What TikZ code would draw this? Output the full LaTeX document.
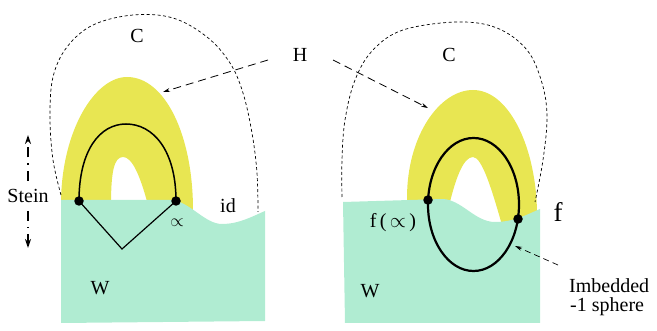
\documentclass[tikz,border=0pt]{standalone}
\usepackage{fontspec}
\setmainfont{Liberation Serif}
\usetikzlibrary{arrows.meta,shapes.geometric}
\definecolor{mint}{RGB}{176,236,210}
\definecolor{yel}{RGB}{232,230,82}
\begin{document}
\begin{tikzpicture}[x=1pt,y=-1pt,
  lbl/.style={font=\fontsize{20}{22}\selectfont, inner sep=0pt, anchor=base},
  cbound/.style={line width=0.7pt, dash pattern=on 3pt off 2.5pt},
  harrow/.style={line width=0.8pt, dash pattern=on 8pt off 5pt, -{Stealth[length=7pt,width=4pt]}},
  stein/.style={line width=1.3pt, dash pattern=on 10pt off 6pt on 1.5pt off 6pt, -{Stealth[length=9pt,width=6pt]}},
  curve/.style={line width=1.5pt},
  dot/.style={circle, fill=black, inner sep=0pt, minimum size=9.5pt}]
\useasboundingbox (0,0) rectangle (657,331);

% ---------- left panel ----------
\fill[yel] (61,210) -- (61,201) .. controls (62,130) and (95,77) .. (127,77)
  .. controls (165,77) and (193,135) .. (193,210) -- (148,210) -- (148,205)
  .. controls (140,175) and (132,157) .. (123,157)
  .. controls (114,157) and (111,172) .. (111,205) -- (111,210) -- cycle;
\fill[mint] (61,200) -- (172,200) .. controls (190,202) and (205,224) .. (222,224)
  .. controls (240,224) and (255,215) .. (265,211) -- (265,321) -- (61,323) -- cycle;

\node[dot] (a1) at (79,201) {};
\node[dot] (a2) at (176,201) {};
\coordinate (v) at (122,249);
\draw[curve] (a1.center) .. controls (79,150) and (100,124) .. (126,124)
  .. controls (153,124) and (176,150) .. (a2.center);
\draw[line width=1.2pt] (a1.center) -- (v) -- (a2.center);

\draw[cbound] plot[smooth, tension=0.6] coordinates {(61,195) (53,160) (50,117) (53,77) (67,47) (93,25) (133,15) (173,18) (207,37) (230,63) (243,93) (252,133) (257,173) (258,212)};

\node[lbl] (C1) at (137,43) {C};
\node[lbl] (W1) at (100,295) {W};
\node[lbl] (id) at (228,213) {id};
\node[font=\fontsize{17}{20}\selectfont, inner sep=0pt] (al) at (177,223) {$\propto$};
\node[lbl] (stein) at (28,203) {Stein};
\coordinate (s1) at (28,181);
\coordinate (s1t) at (28,135);
\coordinate (s2) at (28,211);
\coordinate (s2t) at (28,248);
\draw[stein] (s1) -- (s1t);
\draw[stein] (s2) -- (s2t);

% ---------- H ----------
\node[lbl] (H) at (300,62) {H};
\coordinate (h1) at (268,60);
\coordinate (h1t) at (163,92);
\coordinate (h2) at (333,60);
\coordinate (h2t) at (428,108);
\draw[harrow] (h1) -- (h1t);
\draw[harrow] (h2) -- (h2t);

% ---------- right panel ----------
\fill[yel] (407,210) -- (407,198) .. controls (407,135) and (440,90) .. (473,90)
  .. controls (510,90) and (537,150) .. (537,215) -- (502,225)
  .. controls (492,190) and (482,157) .. (473,157)
  .. controls (463,157) and (455,180) .. (448,210) -- cycle;
\fill[mint] (343,202) -- (443,199) .. controls (462,200) and (475,222) .. (495,222)
  .. controls (515,222) and (530,213) .. (540,209) -- (540,323) -- (345,323) -- cycle;

\node[draw, ellipse, line width=2.2pt, minimum width=91pt, minimum height=133pt, inner sep=0pt] (S) at (473.5,204.5) {};
\node[dot] (b1) at (428,200) {};
\node[dot] (b2) at (518,219) {};

\draw[cbound] plot[smooth, tension=0.6] coordinates {(342,197) (342,160) (345,120) (355,80) (373,50) (403,30) (457,22) (497,28) (527,50) (542,83) (547,117) (543,160) (535,202)};

\node[lbl] (C2) at (449,62) {C};
\node[lbl] (W2) at (370,298) {W};
\node[lbl, font=\fontsize{27}{30}\selectfont] (f) at (558,222) {f};
\node[lbl] (fa) at (393,228) {f\,(\,$\propto$\,)};
\node[lbl, anchor=base west] (imb) at (569,293) {Imbedded};
\node[lbl, anchor=base west] (sph) at (570,312) {-1 sphere};
\coordinate (i1) at (558,265);
\coordinate (i1t) at (515,246);
\draw[harrow, line width=0.7pt, dash pattern=on 6pt off 4pt] (i1) -- (i1t);
\end{tikzpicture}
\end{document}
